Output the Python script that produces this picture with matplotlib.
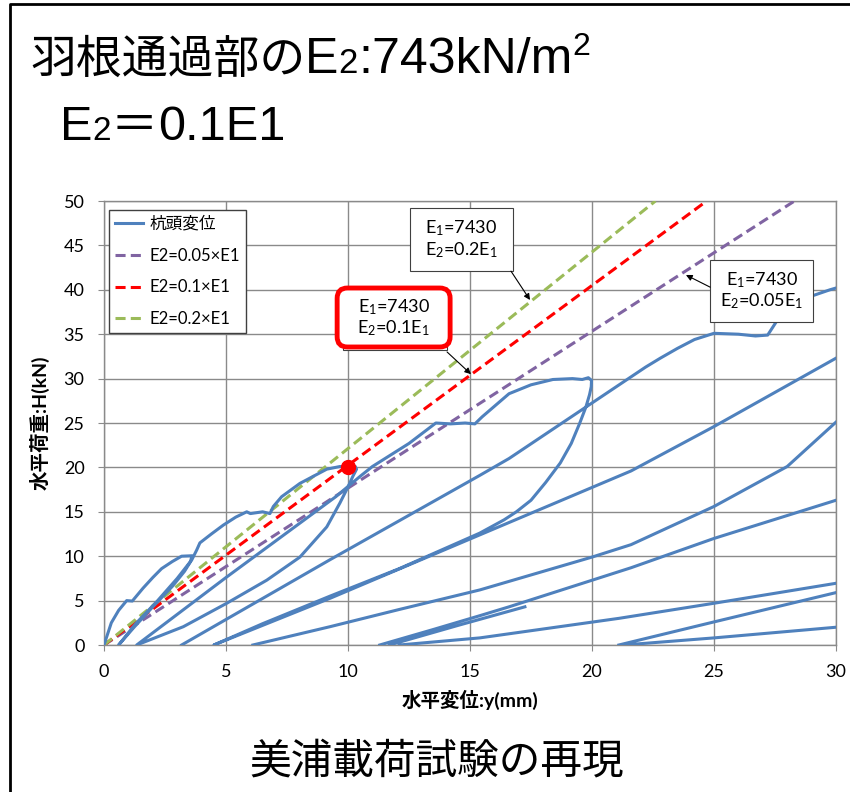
import numpy as np
import matplotlib
matplotlib.use('Agg')
from matplotlib import pyplot as plt
from matplotlib import transforms as mtransforms
from matplotlib.patches import FancyBboxPatch, Rectangle

plt.rcParams['font.family'] = ['Lato', 'Noto Sans CJK JP']
plt.rcParams['mathtext.fontset'] = 'custom'
plt.rcParams['mathtext.rm'] = 'Lato'
plt.rcParams['mathtext.it'] = 'Lato:italic'

# 杭頭変位 : 0 -> 10kN -> 20kN -> 30kN のループ (変位 mm, 荷重 kN)
loop_disp = [0, 0.3, 0.6, 0.93, 1.16, 1.6, 2.0, 2.36, 2.8, 3.18, 3.6,
             3.55, 3.3, 2.8, 2.0, 1.2, 0.6,
             1.3, 2.2, 3.0, 3.6, 3.8, 3.93, 4.4, 4.89, 5.4, 5.85, 6.0, 6.5, 6.8,
             6.94, 7.28, 8.03, 8.58, 9.13, 9.67, 10.3, 10.35,
             10.2, 10.0, 9.67, 9.13, 8.03, 6.67, 5.03, 3.25, 1.34,
             5.0, 9.5, 10.5, 11.0, 12.5, 13.6, 14.2, 14.8, 15.2, 15.5, 16.6,
             17.5, 18.4, 19.2, 19.6, 19.85, 19.98, 19.97,
             19.9, 19.75, 19.5, 19.15, 18.7, 18.1, 17.5, 16.9, 16.4, 15.4,
             12.1, 9.26, 6.5, 4.5,
             9.3, 15.4, 21.6, 25.0, 30.0]
loop_load = [0, 2.5, 3.9, 5.0, 4.95, 6.4, 7.6, 8.6, 9.4, 10.0, 10.05,
             9.4, 8.3, 6.6, 4.3, 1.9, 0,
             2.4, 5.0, 7.5, 9.6, 10.7, 11.5, 12.5, 13.5, 14.4, 15.0, 14.8, 15.0, 14.8,
             15.6, 16.7, 18.2, 19.0, 19.8, 20.1, 20.1, 19.8,
             19.0, 17.8, 16.0, 13.3, 9.9, 7.3, 4.7, 2.06, 0,
             7.6, 16.7, 19.0, 20.1, 22.7, 25.0, 24.9, 25.0, 24.9, 25.7, 28.3,
             29.3, 29.9, 30.0, 29.9, 30.1, 29.8, 29.1,
             28.2, 26.8, 25.0, 22.7, 20.5, 18.3, 16.3, 15.0, 14.1, 12.6,
             8.6, 5.5, 2.4, 0,
             5.3, 12.4, 19.6, 24.6, 32.3]

# 30mmを超えるサイクルの枝 (グラフ右端で切れる)
env_disp = [3.18, 9.26, 15.4, 16.6, 21.6, 22.2, 22.8, 23.5, 24.2, 25.0, 26.0, 26.7,
            27.2, 27.6, 28.9, 29.75, 30.0]
env_load = [0, 9.6, 19.1, 21.0, 30.2, 31.3, 32.3, 33.4, 34.4, 35.1, 35.0, 34.8,
            34.9, 36.6, 39.2, 40.0, 40.2]
c_disp = [6.1, 9.26, 12.1, 15.4, 20.0, 21.6, 25.0, 28.0, 30.0]
c_load = [0, 2.06, 4.0, 6.2, 9.9, 11.3, 15.6, 20.1, 25.1]
d_disp = [11.3, 13.5, 15.4, 16.6, 21.6, 25.0, 30.0]
d_load = [0, 1.75, 3.3, 4.3, 8.7, 12.0, 16.3]
last_disp = [11.7, 14.5, 17.25]
last_load = [0, 2.2, 4.3]
e_disp = [12.1, 15.4, 21.1, 25.0, 30.0]
e_load = [0, 0.8, 3.0, 4.7, 6.95]
f_disp = [21.1, 25.0, 30.0]
f_load = [0, 2.6, 5.9]
g_disp = [21.3, 25.0, 30.0]
g_load = [0, 0.8, 2.0]

# E2 の仮定による直線 (原点から H=50 に達する点まで)
e2_005_disp, e2_005_load = [0, 28.3], [0, 50]
e2_01_disp, e2_01_load = [0, 24.7], [0, 50]
e2_02_disp, e2_02_load = [0, 22.6], [0, 50]
mark_disp, mark_load = [10.0], [20.0]

branches = [(loop_disp, loop_load), (env_disp, env_load), (c_disp, c_load),
            (d_disp, d_load), (last_disp, last_load), (e_disp, e_load),
            (f_disp, f_load), (g_disp, g_load)]
disp, load = [], []
for bx, bh in branches:
    disp += bx + [np.nan]
    load += bh + [np.nan]

fig = plt.figure(figsize=(8.5, 7.92), dpi=100)
ax = fig.add_axes([104 / 850, 1 - 645 / 792, 732 / 850, 444 / 792])

grid_c = '#8a8a8a'
ax.plot(disp, load, color='#4F81BD', lw=2.2, label='杭頭変位', zorder=4)
ax.plot(e2_005_disp, e2_005_load, color='#8064A2', lw=2.2, dashes=(3.3, 1.7),
        label='E2=0.05×E1', zorder=3)
ax.plot(e2_01_disp, e2_01_load, color='#FF0000', lw=2.2, dashes=(3.3, 1.7),
        label='E2=0.1×E1', zorder=3)
ax.plot(e2_02_disp, e2_02_load, color='#9BBB59', lw=2.2, dashes=(3.3, 1.7),
        label='E2=0.2×E1', zorder=3)
ax.plot(mark_disp, mark_load, 'o', color='#FF0000', ms=10, zorder=6)

ax.set_xlim(0, 30)
ax.set_ylim(0, 50)
ax.set_xticks(np.arange(0, 31, 5))
ax.set_yticks(np.arange(0, 51, 5))
ax.grid(True, color=grid_c, lw=1)
ax.set_axisbelow(True)
for sp in ax.spines.values():
    sp.set_color(grid_c)
    sp.set_linewidth(1)
ax.tick_params(axis='both', length=4, color=grid_c, labelsize=13, pad=10)

ax.set_xlabel('水平変位:y(mm)', fontsize=14, fontweight='bold', labelpad=7)
ax.set_ylabel('水平荷重:H(kN)', fontsize=14, fontweight='bold', labelpad=10)

leg = ax.legend(loc='upper left', bbox_to_anchor=(0.007, 0.98), borderaxespad=0,
                fontsize=12, fancybox=False, edgecolor='#404040', framealpha=1,
                handlelength=1.7, handletextpad=0.4, labelspacing=0.95,
                borderpad=0.35)
leg.get_frame().set_linewidth(1)

# 注記ボックス (中心x, 中心y, 幅, 高さ はデータ座標)
arrow = dict(arrowstyle='-|>', color='black', lw=0.8, mutation_scale=9,
             shrinkA=0, shrinkB=0)
aspect = 24.4 / 8.88


def note(cx, cy, w, h, text, tail, head, ec='#404040', lw=0.8, rounded=False):
    if rounded:
        style = 'round,pad=0,rounding_size=0.42'
    else:
        style = 'square,pad=0'
    ax.add_patch(FancyBboxPatch((cx - w / 2, cy - h / 2), w, h, boxstyle=style,
                                mutation_aspect=aspect, fc='white', ec=ec, lw=lw,
                                zorder=7))
    ax.text(cx, cy, text, ha='center', va='center', fontsize=13,
            linespacing=1.12, zorder=8)
    ax.annotate('', xy=head, xytext=tail, arrowprops=arrow, zorder=8)


note(14.65, 45.68, 4.21, 7.06,
     '$\\mathregular{E_1}$=7430\n$\\mathregular{E_2}$=0.2$\\mathregular{E_1}$',
     (16.68, 42.1), (17.46, 38.85))
note(26.95, 39.88, 4.23, 6.95,
     '$\\mathregular{E_1}$=7430\n$\\mathregular{E_2}$=0.05$\\mathregular{E_1}$',
     (24.84, 40.3), (23.85, 41.67))
ax.add_patch(Rectangle((9.8, 33.2), 4.25, 6.7, fc='white', ec='#404040', lw=0.8,
                       zorder=6.5))
note(11.87, 36.88, 4.63, 6.64,
     '$\\mathregular{E_1}$=7430\n$\\mathregular{E_2}$=0.1$\\mathregular{E_1}$',
     (14.06, 33.0), (15.04, 30.5), ec='#FF0000', lw=3.5, rounded=True)

# 図全体の枠
frame = plt.Line2D([10, 10, 850], [-5, 788, 788], transform=None,
                   color='black', lw=2)
fig.lines.append(frame)

# タイトル (E の後の 2 は小さく、m² は上付き)
renderer = fig.canvas.get_renderer()
title_family = ['Liberation Sans', 'Noto Sans CJK JP']


def chain_text(parts, x0, y0):
    x = x0
    for s, size, rise, fam in parts:
        t = fig.text(x, y0 + rise, s, fontsize=size, family=fam,
                     ha='left', va='baseline',
                     transform=mtransforms.IdentityTransform())
        x = t.get_window_extent(renderer).x1


cjk = ['Noto Sans CJK JP']
chain_text([('羽根通過部の', 33, 0, cjk), ('E', 36, 0, title_family),
            ('2', 25, 0, title_family), (':743kN/m', 36, 0, title_family),
            ('2', 23, 18, title_family)], 30, 792 - 73)
chain_text([('E', 35, 0, title_family), ('2', 24, 0, title_family),
            ('＝', 34, 0, cjk), ('0.1E1', 35, 0, title_family)], 60, 792 - 140)
fig.text(437 / 850, 1 - 762 / 792, '美浦載荷試験の再現', fontsize=30, family=cjk,
         ha='center', va='center')

fig.savefig('out.png', dpi=100)
